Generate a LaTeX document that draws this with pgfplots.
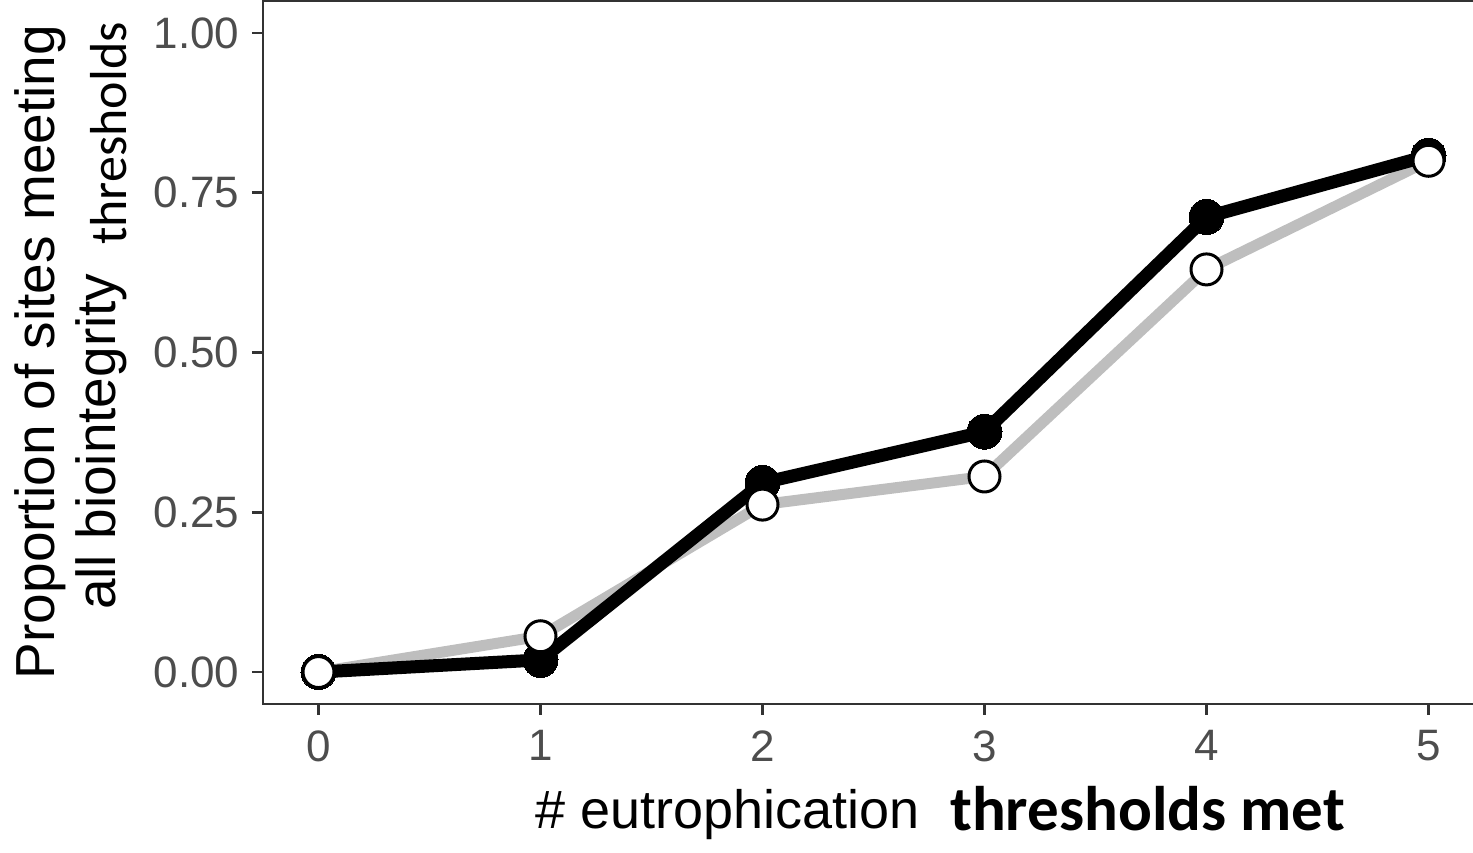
\documentclass[border=0pt]{standalone}
\usepackage{pgfplots}
\pgfplotsset{compat=1.18}
\usepackage{fontspec}
\setmainfont{Liberation Sans}
\newfontfamily\carlito{Carlito}
\definecolor{tickc}{HTML}{4D4D4D}
\definecolor{axc}{HTML}{333333}
\definecolor{grayline}{HTML}{BEBEBE}
\begin{document}
\begin{tikzpicture}
\begin{axis}[
  at={(0,0)}, anchor=south west,
  scale only axis, width=1221pt, height=703pt,
  xmin=-0.25, xmax=5.25, ymin=-0.05, ymax=1.05,
  xtick={0,1,2,3,4,5}, xticklabels={0,1,2,3,4,5},
  ytick={0,0.25,0.5,0.75,1},
  yticklabels={0.00,0.25,0.50,0.75,1.00},
  /pgf/number format/assume math mode=true,
  axis line style={draw=none},
  xtick pos=lower, ytick pos=left,
  tick align=outside, major tick length=11pt,
  tick style={axc, line width=2.8pt},
  ticklabel style={font=\fontsize{44}{50}\selectfont, text=tickc},
  xticklabel style={yshift=-12pt},
  yticklabel style={xshift=-9pt},
  clip=false,
]
\draw[axc, line width=2.8pt] (rel axis cs:1,1) -- (rel axis cs:0,1) -- (rel axis cs:0,0) -- (rel axis cs:1,0);
\addplot[grayline, line width=11pt, line join=round] coordinates {
  (0,0) (1,0.056) (2,0.262) (3,0.306) (4,0.630) (5,0.800)
};
\addplot[black, line width=13pt, line join=round, mark=*, mark size=17.5pt,
  mark options={fill=black, line width=0pt}] coordinates {
  (0,0) (1,0.019) (2,0.296) (3,0.376) (4,0.712) (5,0.808)
};
\addplot[only marks, mark=*, mark size=15.5pt,
  mark options={fill=white, draw=black, line width=3pt}] coordinates {
  (0,0) (1,0.056) (2,0.262) (3,0.306) (4,0.630) (5,0.800)
};
\end{axis}
\node[rotate=90, anchor=base, inner sep=0pt, font=\fontsize{55}{60}\selectfont] at (-208pt,352pt) {Proportion of sites meeting};
\node[rotate=90, anchor=base west, inner sep=0pt, font=\fontsize{55}{60}\selectfont] at (-147pt,94pt) {all biointegrity};
\node[rotate=90, anchor=base west, inner sep=0pt, font=\carlito\fontsize{52}{56}\selectfont] at (-136pt,459pt) {thresholds};
\node[anchor=base west, inner sep=0pt, font=\fontsize{54}{60}\selectfont] at (272pt,-124pt) {\# eutrophication};
\node[anchor=base west, inner sep=0pt, font=\carlito\bfseries\fontsize{63}{70}\selectfont] at (687pt,-126pt) {thresholds met};
\pgfresetboundingbox
\useasboundingbox (-263pt,-148pt) rectangle (1210pt,704pt);
\end{tikzpicture}
\end{document}
